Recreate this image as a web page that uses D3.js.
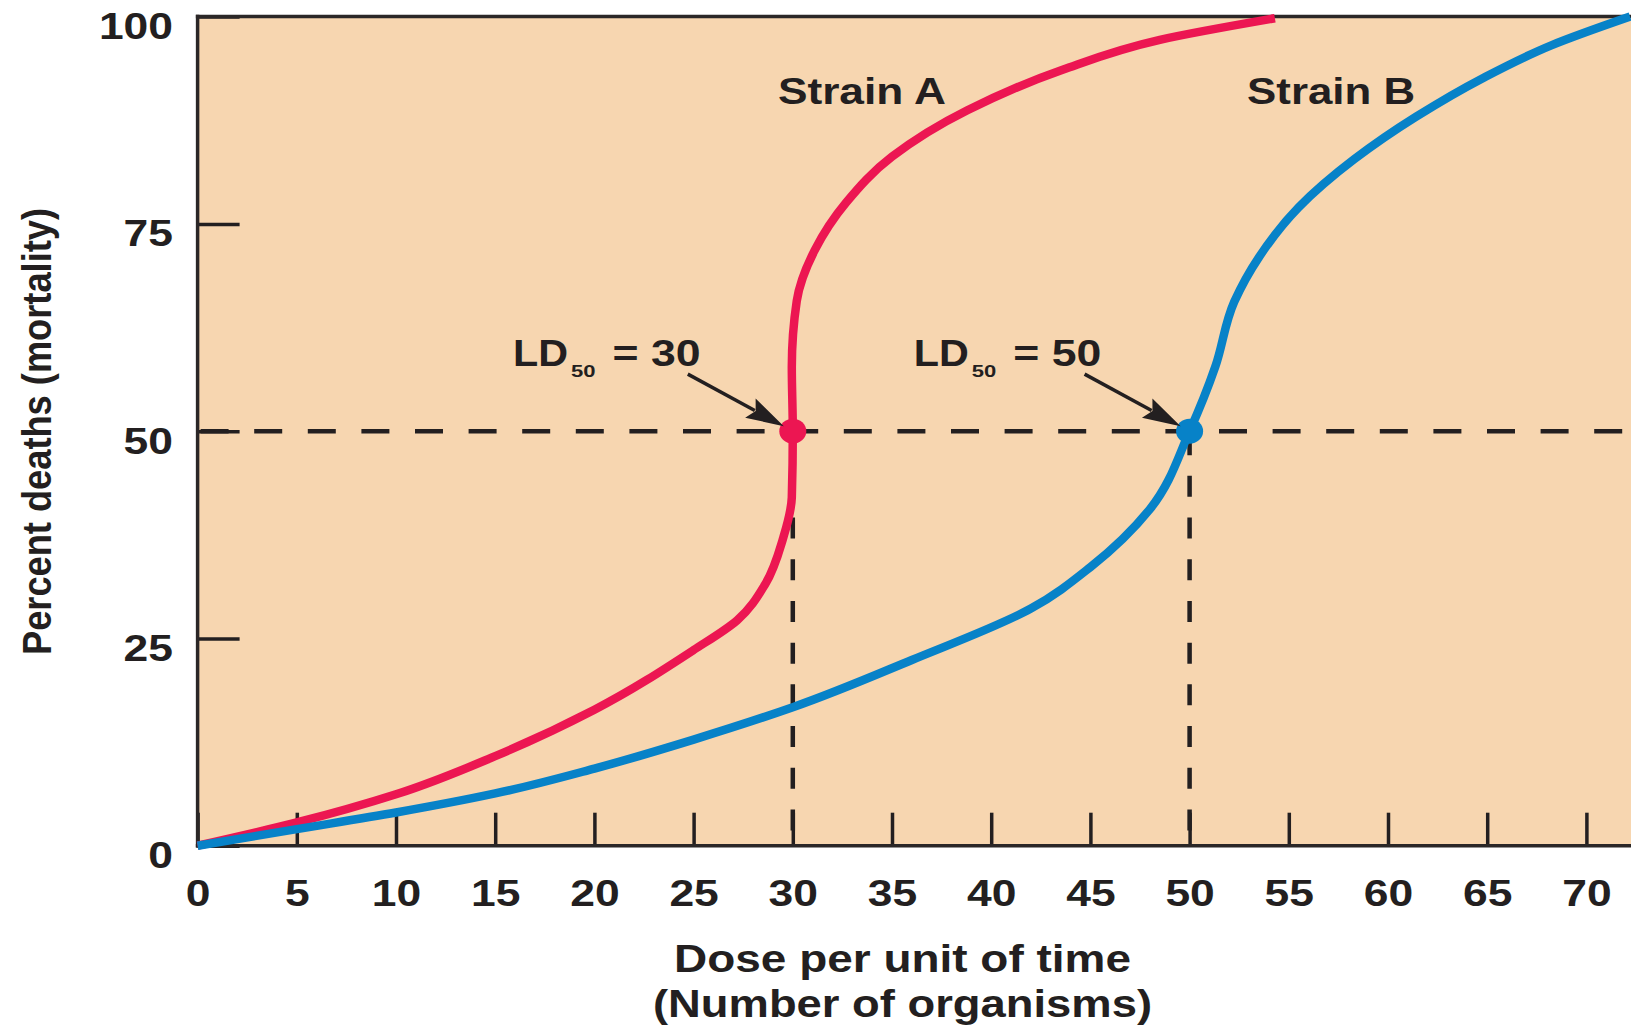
<!DOCTYPE html>
<html>
<head>
<meta charset="utf-8">
<script src="https://cdn.jsdelivr.net/npm/d3@7"></script>
<style>
  body { margin: 0; background: #fff; }
  text { font-family: "Liberation Sans", Arial, sans-serif; fill: #231f20; }
</style>
</head>
<body>
<div id="chart-area"></div>
<script>
// chart values
const xTicks = [0, 5, 10, 15, 20, 25, 30, 35, 40, 45, 50, 55, 60, 65, 70];
const yTicks = [0, 25, 50, 75, 100];

const strainADose = [0, 5, 10, 15, 20, 25, 27.2, 28.6, 29.5, 29.95, 30.0, 29.95, 30.2, 31.1, 32.7, 35.0, 38.8, 43.6, 48.5, 54.3];
const strainAPct  = [0, 2.8, 6.2, 10.8, 16.4, 23.6, 27.2, 31.5, 37, 42, 50, 57.7, 65.7, 71.8, 77.6, 83.1, 88.7, 93.6, 97.2, 99.8];

const strainBDose = [0, 5, 10, 15, 20, 25, 30, 36, 42, 45, 48, 50, 51.3, 52.25, 53.5, 55.5, 58.3, 61.4, 64.8, 68.2, 72.2];
const strainBPct  = [0, 2.0, 4.0, 6.3, 9.3, 12.8, 16.7, 22.4, 28.6, 33.6, 40.6, 50, 57.8, 65.6, 71, 77, 82.8, 87.9, 92.6, 96.5, 100];

const ld50 = [30, 50];
const ldText = ["= 30", "= 50"];
const ldLabelDose = [15.9, 36.1];
const strainNames = ["Strain A", "Strain B"];
const strainLabelDose = [29.25, 52.9];
const strainColors = ["#ec1652", "#0782c8"];

const full_width = 1631, full_height = 1025;
const margin = { left: 197.6, top: 16.6, bottom: 179.3 };
const height = full_height - margin.top - margin.bottom;

const svg = d3.select("#chart-area").append("svg")
    .attr("width", full_width).attr("height", full_height);

const x = d3.scaleLinear().domain([0, 70]).range([margin.left, margin.left + 70 * 19.84]);
const y = d3.scaleLinear().domain([0, 100]).range([margin.top + height, margin.top]);

// background
svg.append("rect")
    .attr("x", x(0)).attr("y", y(100))
    .attr("width", full_width - x(0)).attr("height", y(0) - y(100))
    .attr("fill", "#f7d6b0");

// dashed guides
svg.append("line")
    .attr("x1", x(0) + 3).attr("x2", full_width)
    .attr("y1", y(50)).attr("y2", y(50))
    .attr("stroke", "#231f20").attr("stroke-width", 4.5)
    .attr("stroke-dasharray", "28,25.6");

svg.selectAll(".vguide").data(ld50).enter()
    .append("line")
    .attr("class", "vguide")
    .attr("x1", d => x(d)).attr("x2", d => x(d))
    .attr("y1", y(50) + 3).attr("y2", y(0))
    .attr("stroke", "#231f20").attr("stroke-width", 4.5)
    .attr("stroke-dasharray", "21,20.7");

// axes
const xAxisCall = d3.axisBottom(x).tickValues(xTicks).tickSizeInner(-33).tickSizeOuter(0);
const yAxisCall = d3.axisLeft(y).tickValues(yTicks).tickSizeInner(-42).tickSizeOuter(0);

const xAxis = svg.append("g")
    .attr("transform", "translate(0, " + y(0) + ")")
    .call(xAxisCall);
const yAxis = svg.append("g")
    .attr("transform", "translate(" + x(0) + ", 0)")
    .call(yAxisCall);

[xAxis, yAxis].forEach(a => {
    a.select(".domain").remove();
    a.selectAll(".tick line").attr("stroke", "#231f20").attr("stroke-width", 3.5);
    a.selectAll(".tick text")
        .attr("fill", "#231f20")
        .attr("font-size", "37px")
        .attr("font-weight", "bold")
        .attr("font-family", "Liberation Sans, Arial, sans-serif")
        .attr("dy", null)
        .attr("lengthAdjust", "spacingAndGlyphs")
        .attr("textLength", d => String(d).length * 24.7);
});
xAxis.selectAll(".tick text").attr("y", 60);
yAxis.selectAll(".tick text").attr("x", -24.6).attr("y", 22);

// frame
const frame = [[x(0), y(100), full_width, y(100)], [x(0), y(100), x(0), y(0)], [x(0), y(0), full_width, y(0)]];
svg.selectAll(".frame").data(frame).enter()
    .append("line")
    .attr("x1", d => d[0]).attr("y1", d => d[1])
    .attr("x2", d => d[2]).attr("y2", d => d[3])
    .attr("stroke", "#2b2727").attr("stroke-width", 3.5)
    .attr("stroke-linecap", "square");

// curves
const line = d3.line()
    .x(d => x(d[0])).y(d => y(d[1]))
    .curve(d3.curveMonotoneY);

const series = [d3.zip(strainADose, strainAPct), d3.zip(strainBDose, strainBPct)];

svg.selectAll(".curve").data(series).enter()
    .append("path")
    .attr("class", "curve")
    .attr("d", line)
    .attr("fill", "none")
    .attr("stroke", (d, i) => strainColors[i])
    .attr("stroke-width", 8.5);

// LD50 dots
svg.selectAll(".dot").data(ld50).enter()
    .append("ellipse")
    .attr("cx", d => x(d)).attr("cy", y(50))
    .attr("rx", 13.5).attr("ry", 12.5)
    .attr("fill", (d, i) => strainColors[i]);

// arrows
ld50.forEach((d, i) => {
    const tail = [x(d) - 105, y(50) - 57];
    const tip = [x(d) - 9, y(50) - 5];
    const dx = tip[0] - tail[0], dy = tip[1] - tail[1];
    const len = Math.hypot(dx, dy);
    const ux = dx / len, uy = dy / len;
    const bx = tip[0] - ux * 38, by = tip[1] - uy * 38;
    svg.append("line")
        .attr("x1", tail[0]).attr("y1", tail[1])
        .attr("x2", bx + ux * 5).attr("y2", by + uy * 5)
        .attr("stroke", "#231f20").attr("stroke-width", 3.5);
    svg.append("polygon")
        .attr("points", [tip, [bx - uy * 11, by + ux * 11], [bx + ux * 6, by + uy * 6], [bx + uy * 11, by - ux * 11]].map(p => p.join(",")).join(" "))
        .attr("fill", "#231f20");

    const lx = x(ldLabelDose[i]), ly = y(57.8);
    svg.append("text").attr("x", lx).attr("y", ly)
        .attr("font-size", "37px").attr("font-weight", "bold")
        .attr("textLength", 55).attr("lengthAdjust", "spacingAndGlyphs")
        .text("LD");
    svg.append("text").attr("x", lx + 58).attr("y", ly + 10.3)
        .attr("font-size", "17px").attr("font-weight", "bold")
        .attr("textLength", 24.5).attr("lengthAdjust", "spacingAndGlyphs")
        .text("50");
    svg.append("text").attr("x", lx + 99.5).attr("y", ly)
        .attr("font-size", "37px").attr("font-weight", "bold")
        .attr("textLength", 88).attr("lengthAdjust", "spacingAndGlyphs")
        .text(ldText[i]);
});

// strain labels
svg.selectAll(".strain").data(strainNames).enter()
    .append("text")
    .attr("class", "strain")
    .attr("x", (d, i) => x(strainLabelDose[i]))
    .attr("y", y(89.4))
    .attr("font-size", "36px").attr("font-weight", "bold")
    .attr("textLength", 168).attr("lengthAdjust", "spacingAndGlyphs")
    .text(d => d);

// X Label
svg.append("text")
    .attr("x", 674).attr("y", 972)
    .attr("font-size", "39px").attr("font-weight", "bold")
    .attr("textLength", 457).attr("lengthAdjust", "spacingAndGlyphs")
    .text("Dose per unit of time");
svg.append("text")
    .attr("x", 653).attr("y", 1017)
    .attr("font-size", "39px").attr("font-weight", "bold")
    .attr("textLength", 499).attr("lengthAdjust", "spacingAndGlyphs")
    .text("(Number of organisms)");

// Y Label
svg.append("text")
    .attr("transform", "translate(50.5, 655) rotate(-90)")
    .attr("font-size", "40px").attr("font-weight", "bold")
    .attr("textLength", 447).attr("lengthAdjust", "spacingAndGlyphs")
    .text("Percent deaths (mortality)");
</script>
</body>
</html>
